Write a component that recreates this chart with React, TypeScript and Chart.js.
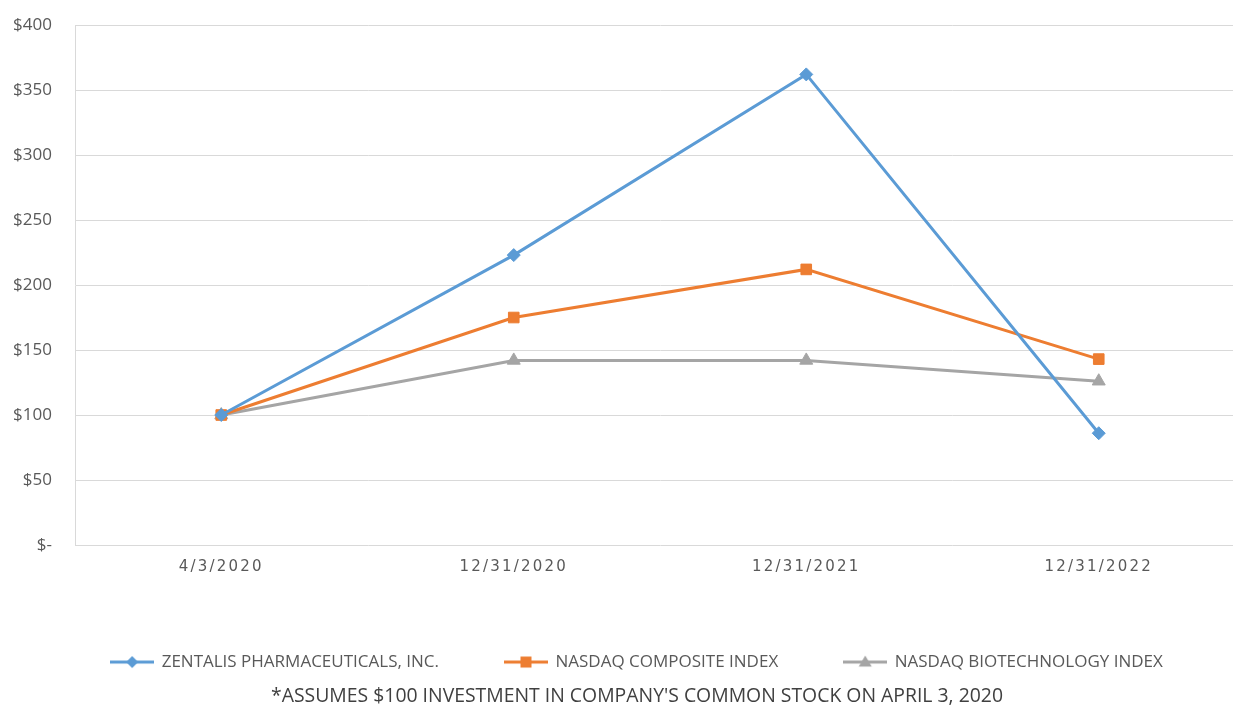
import React, { useEffect, useRef } from 'react';
import { Chart, registerables } from 'chart.js';

Chart.register(...registerables);

const categories = ['4/3/2020', '12/31/2020', '12/31/2021', '12/31/2022'];
const zentalis = [100, 223, 362, 86];
const nasdaqComposite = [100, 175, 212, 143];
const nasdaqBiotech = [100, 142, 142, 126];
const seriesNames = [
  'ZENTALIS PHARMACEUTICALS, INC.',
  'NASDAQ COMPOSITE INDEX',
  'NASDAQ BIOTECHNOLOGY INDEX',
];
const yMin = 0;
const yMax = 400;
const yStep = 50;
const footnote = "*ASSUMES $100 INVESTMENT IN COMPANY'S COMMON STOCK ON APRIL 3, 2020";

const BLUE = '#5B9BD5';
const ORANGE = '#ED7D31';
const GRAY = '#A5A5A5';
const TEXT = '#595959';

function makeGlyph(color: string, style: string): HTMLCanvasElement {
  const c = document.createElement('canvas');
  c.width = 44;
  c.height = 16;
  const g = c.getContext('2d')!;
  g.strokeStyle = color;
  g.fillStyle = color;
  g.lineWidth = 3;
  g.beginPath();
  g.moveTo(0, 8);
  g.lineTo(44, 8);
  g.stroke();
  g.beginPath();
  if (style === 'diamond') {
    g.moveTo(22, 2);
    g.lineTo(28, 8);
    g.lineTo(22, 14);
    g.lineTo(16, 8);
  } else if (style === 'square') {
    g.rect(16.5, 2.5, 11, 11);
  } else {
    g.moveTo(22, 1.5);
    g.lineTo(28.5, 12.5);
    g.lineTo(15.5, 12.5);
  }
  g.closePath();
  g.fill();
  return c;
}

const xSpacingPlugin = {
  id: 'xLetterSpacing',
  afterLayout(chart: any) {
    const xs: any = chart.scales.x;
    if (!xs || xs._spacedPatched) return;
    const orig = xs.drawLabels.bind(xs);
    xs.drawLabels = (area: any) => {
      const ctx: any = chart.ctx;
      ctx.save();
      ctx.letterSpacing = '2.2px';
      orig(area);
      ctx.restore();
    };
    xs._spacedPatched = true;
  },
};

export default function App() {
  const ref = useRef<HTMLCanvasElement | null>(null);

  useEffect(() => {
    document.body.style.margin = '0';
    const glyphs = [
      makeGlyph(BLUE, 'diamond'),
      makeGlyph(ORANGE, 'square'),
      makeGlyph(GRAY, 'triangle'),
    ];
    const chart = new Chart(ref.current!, {
      type: 'line',
      data: {
        labels: categories,
        datasets: [
          {
            label: seriesNames[0],
            data: zentalis,
            borderColor: BLUE,
            backgroundColor: BLUE,
            borderWidth: 3,
            pointStyle: 'rectRot',
            pointRadius: 6.5,
            pointBorderWidth: 1,
          },
          {
            label: seriesNames[1],
            data: nasdaqComposite,
            borderColor: ORANGE,
            backgroundColor: ORANGE,
            borderWidth: 3,
            pointStyle: 'rect',
            pointRadius: 7.5,
            pointBorderWidth: 1,
          },
          {
            label: seriesNames[2],
            data: nasdaqBiotech,
            borderColor: GRAY,
            backgroundColor: GRAY,
            borderWidth: 3,
            pointStyle: 'triangle',
            pointRadius: 7.5,
            pointBorderWidth: 1,
          },
        ],
      },
      options: {
        animation: false,
        responsive: false,
        maintainAspectRatio: false,
        layout: { padding: { top: 25, left: 0, right: 0, bottom: 0 } },
        scales: {
          x: {
            offset: true,
            grid: { display: false },
            border: { display: false },
            ticks: {
              color: TEXT,
              font: { family: 'DejaVu Sans', size: 15 },
              padding: 5,
              maxRotation: 0,
            },
            afterFit: (s: any) => {
              s.height = 42.5;
            },
          },
          y: {
            min: yMin,
            max: yMax,
            grid: {
              color: '#D9D9D9',
              lineWidth: 1,
              drawTicks: true,
              tickLength: 20,
              tickColor: 'rgba(0,0,0,0)',
            },
            border: { display: true, color: '#D9D9D9', width: 1 },
            ticks: {
              stepSize: yStep,
              color: TEXT,
              padding: 3,
              font: { family: 'Open Sans', size: 17 },
              callback: (v: any) => (Number(v) === 0 ? '$-' : '$' + v),
            },
            afterFit: (s: any) => {
              s.width = 75;
            },
          },
          yRight: {
            position: 'right',
            display: true,
            grid: { display: false, drawTicks: false },
            border: { display: false },
            ticks: { display: false },
            afterFit: (s: any) => {
              s.width = 29;
            },
          },
        },
        plugins: {
          legend: {
            position: 'bottom',
            labels: {
              usePointStyle: true,
              pointStyleWidth: 42,
              boxHeight: 17,
              padding: 66,
              color: TEXT,
              font: { family: 'Open Sans', size: 17 },
              generateLabels: (chart: any) =>
                chart.data.datasets.map((ds: any, i: number) => ({
                  text: ds.label,
                  fillStyle: ds.borderColor,
                  strokeStyle: ds.borderColor,
                  fontColor: TEXT,
                  pointStyle: glyphs[i],
                  lineWidth: 0,
                  hidden: false,
                  datasetIndex: i,
                })),
            },
          },
          title: {
            display: true,
            position: 'bottom',
            text: footnote,
            color: '#404040',
            font: { family: 'Open Sans', size: 19.4, weight: 'normal' },
            padding: { top: 4.8, bottom: 0.4 },
          },
          tooltip: { enabled: false },
        },
      },
      plugins: [xSpacingPlugin],
    } as any);
    return () => chart.destroy();
  }, []);

  return (
    <div style={{ position: 'relative', width: 1233, height: 709, overflow: 'hidden', background: '#fff' }}>
      <canvas ref={ref} width={1274} height={709} style={{ display: 'block', width: 1274, height: 709 }} />
    </div>
  );
}
